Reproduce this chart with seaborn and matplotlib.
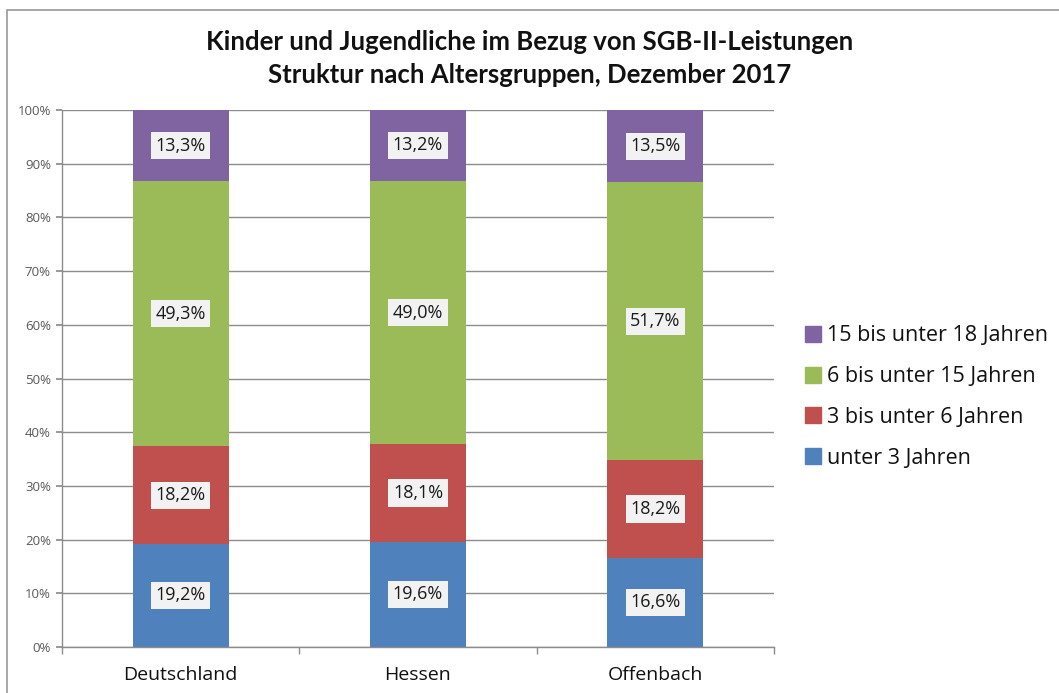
import matplotlib
matplotlib.use("Agg")
import matplotlib.pyplot as plt
import seaborn as sns
import numpy as np
import pandas as pd
from matplotlib.lines import Line2D
from matplotlib.patches import Rectangle
from matplotlib.ticker import FixedLocator, PercentFormatter

sns.set_theme(style="white")
plt.rcParams['font.family'] = ['Open Sans', 'DejaVu Sans']

regions = ["Deutschland", "Hessen", "Offenbach"]
groups = ["unter 3 Jahren", "3 bis unter 6 Jahren", "6 bis unter 15 Jahren", "15 bis unter 18 Jahren"]
unter3 = [19.2, 19.6, 16.6]
bis6 = [18.2, 18.1, 18.2]
bis15 = [49.3, 49.0, 51.7]
bis18 = [13.3, 13.2, 13.5]
colors = ["#4F81BD", "#C0504D", "#9BBB59", "#8064A2"]

series = [unter3, bis6, bis15, bis18]
vals = np.array(series, dtype=float)
shares = vals / vals.sum(axis=0) * 100
cum = np.cumsum(shares, axis=0)
bottoms = cum - shares

fig = plt.figure(figsize=(10.59, 6.93), dpi=100)
ax = fig.add_axes([62/1059, 46/693, 712/1059, 537/693])

# draw stacked bars from the top layer down (overlapping cumulative bars)
for i in range(3, -1, -1):
    df = pd.DataFrame({"Region": regions, "Wert": cum[i]})
    sns.barplot(data=df, x="Region", y="Wert", color=colors[i], saturation=1,
                width=0.405, ax=ax, zorder=2, linewidth=0)

for i in range(4):
    for j in range(3):
        yc = bottoms[i, j] + shares[i, j] / 2
        ax.text(j, yc, f"{series[i][j]:.1f}%".replace(".", ","), ha="center", va="center",
                fontsize=13, color="#1a1a1a", zorder=5,
                bbox=dict(boxstyle="square,pad=0.25", facecolor="#F2F2F2", edgecolor="none"))

ax.set_xlim(-0.5, 2.5)
ax.set_ylim(0, 100)
ax.yaxis.set_major_locator(FixedLocator(np.arange(0, 101, 10)))
ax.yaxis.set_major_formatter(PercentFormatter(decimals=0))
ax.yaxis.grid(True, color="#8C8C8C", linewidth=1, zorder=0)
ax.set_axisbelow(True)
ax.set_xlabel("")
ax.set_ylabel("")
for s in ["top", "right"]:
    ax.spines[s].set_visible(False)
for s in ["left", "bottom"]:
    ax.spines[s].set_color("#8C8C8C")
    ax.spines[s].set_linewidth(1)
ax.tick_params(axis="y", labelsize=9.5, labelcolor="#595959", length=4, color="#8C8C8C", pad=4, left=True)
ax.tick_params(axis="x", labelsize=14, labelcolor="#111111", length=0, pad=14)
ax.set_xticks([-0.5, 0.5, 1.5, 2.5], minor=True)
ax.tick_params(axis="x", which="minor", length=5, color="#8C8C8C", bottom=True, direction="out")

title_font = dict(ha="center", va="center", fontsize=18.5, fontweight="bold", color="#111111",
                  family=["Lato", "DejaVu Sans"])
fig.text(0.5, 1 - 42/693, "Kinder und Jugendliche im Bezug von SGB-II-Leistungen", **title_font)
fig.text(0.5, 1 - 75/693, "Struktur nach Altersgruppen, Dezember 2017", **title_font)

handles = [Line2D([0], [0], marker="s", linestyle="none", markersize=11,
                  markerfacecolor=colors[i], markeredgecolor=colors[i]) for i in range(3, -1, -1)]
labels = [groups[i] for i in range(3, -1, -1)]
fig.legend(handles, labels, loc="center left", bbox_to_anchor=(0.742, 1 - 397/693),
           frameon=False, fontsize=15.5, labelspacing=0.92, handlelength=0.7,
           handletextpad=0.3, labelcolor="#111111")

fig.add_artist(Rectangle((7/1059, -0.05), 1.2, 1 - 10/693 + 0.05, transform=fig.transFigure,
                         fill=False, edgecolor="#9A9A9A", linewidth=1.2))

fig.savefig("out.png", dpi=100)
